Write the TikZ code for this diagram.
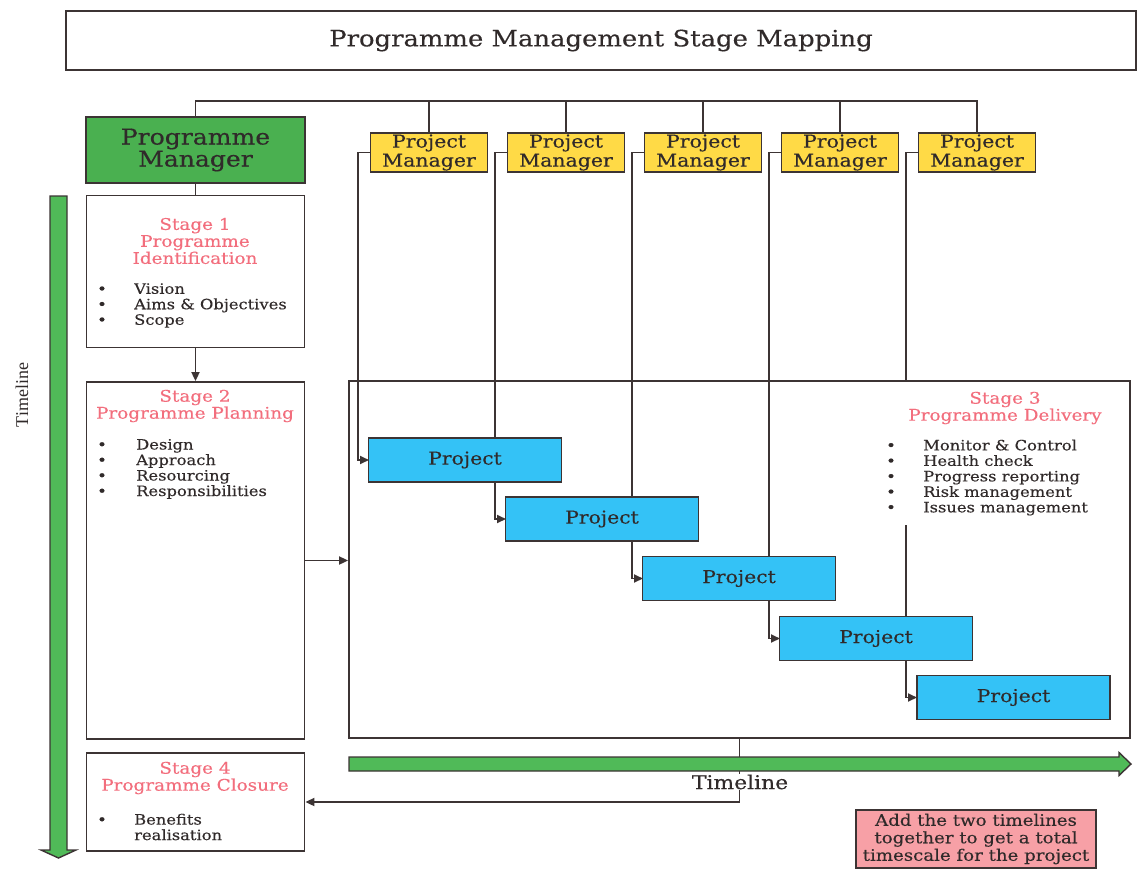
\documentclass[tikz,border=0pt]{standalone}
\usepackage{fontspec}
\setmainfont{DejaVu Serif}[FakeStretch=1.15, FakeBold=0.35]
\newfontfamily\timesfont{Liberation Serif}
\usetikzlibrary{arrows.meta}

\definecolor{linecol}{RGB}{60,52,52}
\definecolor{textcol}{RGB}{48,42,42}
\definecolor{pmgreen}{RGB}{74,176,80}
\definecolor{tlgreen}{RGB}{80,186,88}
\definecolor{pmyellow}{RGB}{255,218,70}
\definecolor{projblue}{RGB}{52,194,246}
\definecolor{notepink}{RGB}{247,160,166}
\definecolor{stagepink}{RGB}{242,110,125}

\newcommand{\fs}[2]{\fontsize{#1}{#2}\selectfont}
\newcommand{\bul}[1]{\makebox[#1][l]{\textbullet}}

\begin{document}
\begin{tikzpicture}[x=1pt,y=-1pt,
  box/.style={draw=linecol, line width=1.8pt, inner sep=0pt, text=textcol},
  conn/.style={draw=linecol, line width=1.8pt},
  arr/.style={conn, -{Triangle[length=9pt,width=8pt]}},
  stagehead/.style={align=center, text=stagepink, inner sep=0pt, font=\fs{16}{17}},
  bullets/.style={align=left, text=textcol, inner sep=0pt, anchor=west, font=\fs{14.2}{15.5}},
  pmbox/.style={box, fill=pmyellow, minimum width=117, minimum height=39, align=center, font=\fs{17.8}{19}},
  projbox/.style={box, fill=projblue, minimum width=193, minimum height=44, font=\fs{17.7}{19}},
  stagebox/.style={box, minimum width=218},
  greenarrow/.style={draw=linecol, line width=1.4pt, fill=tlgreen, line join=miter}
]
\useasboundingbox (0,0) rectangle (1137,870);

% title
\node[box, minimum width=1070, minimum height=59, font=\fs{22.5}{24}] (title) at (601,40.5)
  {Programme Management Stage Mapping};

% managers
\node[box, fill=pmgreen, minimum width=219, minimum height=66, align=center, font=\fs{21.8}{22}] (pgm) at (195.5,150) {Programme\\Manager};
\node[pmbox] (pm1) at (429,152.5) {Project\\Manager};
\node[pmbox] (pm2) at (566,152.5) {Project\\Manager};
\node[pmbox] (pm3) at (703,152.5) {Project\\Manager};
\node[pmbox] (pm4) at (840,152.5) {Project\\Manager};
\node[pmbox] (pm5) at (977,152.5) {Project\\Manager};

% reporting bus
\coordinate (bus) at (0,101);
\draw[conn] (pgm.north) -- (pgm.north |- bus) -| (pm5.north);
\foreach \i in {1,...,4} \draw[conn] (pm\i.north) -- (pm\i.north |- bus);

% stage boxes
\node[stagebox, minimum height=152] (stage1) at (195.5,271.5) {};
\node[stagebox, minimum height=357] (stage2) at (195.5,560.5) {};
\node[stagebox, minimum height=98] (stage4) at (195.5,802) {};
\node[box, minimum width=781, minimum height=357] (stage3) at (739.5,559.5) {};

% stage texts
\node[stagehead] (s1title) at (195,241) {Stage 1\\Programme\\Identification};
\node[bullets] (s1list) at (97,305.5) {\bul{37pt}Vision\\\bul{37pt}Aims \& Objectives\\\bul{37pt}Scope};
\node[stagehead] (s2title) at (195,406) {Stage 2\\Programme Planning};
\node[bullets] (s2list) at (97,469) {\bul{39pt}Design\\\bul{39pt}Approach\\\bul{39pt}Resourcing\\\bul{39pt}Responsibilities};
\node[stagehead] (s3title) at (1005,408) {Stage 3\\Programme Delivery};
\node[bullets] (s3list) at (886,477.5) {\bul{37pt}Monitor \& Control\\\bul{37pt}Health check\\\bul{37pt}Progress reporting\\\bul{37pt}Risk management\\\bul{37pt}Issues management};
\node[stagehead] (s4title) at (195,778) {Stage 4\\Programme Closure};
\node[bullets] (s4list) at (97,827) {\bul{37pt}Benefits\\\hspace*{37pt}realisation};

% stage flow
\draw[conn] (pgm.south) -- (stage1.north);
\draw[arr] (stage1.south) -- (stage2.north);
\draw[arr] (stage2.east) -- (stage2.east -| stage3.west);

% project manager to project links
\coordinate (p5top) at ([xshift=-12pt]pm5.west |- stage3.north);
\draw[conn] (pm5.west) -- ++(-12,0) -- (p5top);

% links drawn before the project boxes so the boxes sit over them
\draw[arr] (pm1.west) -- ++(-12,0) |- (369,460);
\draw[arr] (pm2.west) -- ++(-12,0) |- (506,519);
\draw[arr] (pm3.west) -- ++(-12,0) |- (643,578.5);
\draw[arr] (pm4.west) -- ++(-12,0) |- (780,638.5);
\draw[arr] (p5top |- 0,525) |- (917,697.5);

% projects
\node[projbox] (p1) at (465,460) {Project};
\node[projbox] (p2) at (602,519) {Project};
\node[projbox] (p3) at (739,578.5) {Project};
\node[projbox] (p4) at (876,638.5) {Project};
\node[projbox] (p5) at (1013.5,697.5) {Project};

% return to closure
\draw[arr] (stage3.south) |- (stage4.east);

% timelines
\draw[greenarrow] (349,757) -- (1119,757) -- (1119,752.5) -- (1131,764) -- (1119,775.5) -- (1119,771) -- (349,771) -- cycle;
\draw[greenarrow] (50,196) -- (67,196) -- (67,850) -- (76,850) -- (58.5,858) -- (41,850) -- (50,850) -- cycle;
\node[fill=white, inner sep=1pt, text=textcol, font=\fs{19}{20}] (tlh) at (740,782) {Timeline};
\node[rotate=90, inner sep=0pt, text=textcol, font=\timesfont\fs{18}{20}] (tlv) at (22,395) {Timeline};

% note
\node[box, fill=notepink, minimum width=240, minimum height=58, align=center, font=\fs{15.8}{17.5}] (note) at (976,839)
  {Add the two timelines\\together to get a total\\timescale for the project};
\end{tikzpicture}
\end{document}
